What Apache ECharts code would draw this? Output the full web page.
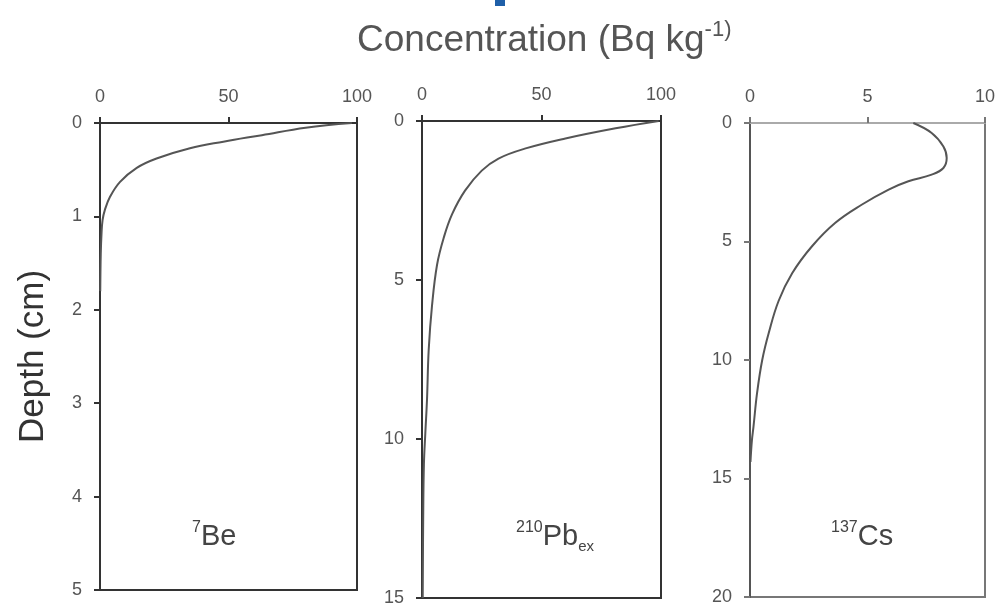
<!DOCTYPE html>
<html>
<head>
<meta charset="utf-8">
<style>
  html, body { margin: 0; padding: 0; background: #fff; }
  #chart { width: 1001px; height: 611px; }
</style>
<script src="https://cdn.jsdelivr.net/npm/echarts@6/dist/echarts.min.js"></script>
</head>
<body>
<div id="chart"></div>
<script>
// 7Be profile (depth cm, concentration Bq/kg)
const beDepth = [0, 0.05, 0.13, 0.2, 0.27, 0.38, 0.48, 0.63, 0.79, 0.93, 1.04, 1.18, 1.4, 1.8]
const beConc = [98, 80, 63, 48, 35, 22, 14.3, 7.8, 3.9, 1.9, 1.0, 0.6, 0.3, 0.1]

// 210Pbex profile
const pbDepth = [0, 0.23, 0.55, 0.87, 1.18, 1.56, 2.19, 2.93, 3.67, 4.52, 5.8, 7.2, 8.75, 9.8, 10.8, 12.5, 15]
const pbConc = [99, 81, 60, 43, 32, 25, 18, 12.6, 9.1, 6.3, 4.2, 2.8, 2.1, 1.4, 0.8, 0.5, 0.3]

// 137Cs profile
const csDepth = [0, 0.42, 0.99, 1.48, 1.9, 2.18, 2.46, 2.81, 3.45, 4.22, 5.21, 6.33, 7.5, 8.85, 10, 11.4, 12.8, 13.4, 14.3]
const csConc = [6.95, 7.73, 8.23, 8.37, 8.23, 7.73, 6.74, 5.9, 4.75, 3.62, 2.63, 1.8, 1.22, 0.8, 0.52, 0.3, 0.15, 0.08, 0.02]

// axis ranges [min, max, interval]
const concRanges = [[0, 100, 50], [0, 100, 50], [0, 10, 5]]
const depthRanges = [[0, 5, 1], [0, 15, 5], [0, 20, 5]]

const pairs = (xs, ys) => xs.map((x, i) => [x, ys[i]])

const font = 'Liberation Sans, Arial, sans-serif'
const labelColor = '#555'

const frames = [
  { left: 100, top: 123, width: 257, height: 467, line: '#333', topLine: '#333' },
  { left: 422, top: 121, width: 239, height: 477, line: '#333', topLine: '#333' },
  { left: 750, top: 123, width: 235, height: 474, line: '#777', topLine: '#aaa' },
]

// 面板标签（上标/下标用富文本）
const tag = (text, left, top) => ({
  text: text,
  left: left,
  top: top,
  textStyle: {
    fontWeight: 'normal',
    rich: {
      s: { fontFamily: font, fontSize: 16, color: '#444', fontWeight: 'normal', verticalAlign: 'top', lineHeight: 34 },
      m: { fontFamily: font, fontSize: 29, color: '#444', fontWeight: 'normal', lineHeight: 34 },
      b: { fontFamily: font, fontSize: 15, color: '#444', fontWeight: 'normal', verticalAlign: 'bottom', lineHeight: 34 },
    },
  },
})

const mycharts = echarts.init(document.getElementById('chart'))

mycharts.setOption({
  backgroundColor: '#fff',
  animation: false,
  title: [
    {
      text: 'Concentration (Bq kg{sup|-1)}',
      left: 352,
      top: 14,
      textStyle: {
        fontFamily: font,
        fontSize: 37,
        fontWeight: 'normal',
        color: '#555',
        lineHeight: 44,
        rich: {
          sup: { fontFamily: font, fontSize: 22, color: '#555', fontWeight: 'normal', verticalAlign: 'top', lineHeight: 44 },
        },
      },
    },
    tag('{s|7}{m|Be}', 187, 515),
    tag('{s|210}{m|Pb}{b|ex}', 511, 515),
    tag('{s|137}{m|Cs}', 826, 515),
  ],
  graphic: [
    { type: 'rect', shape: { x: 495, y: 0, width: 10, height: 6 }, style: { fill: '#1f5fa8' } },
  ],
  grid: frames.map((f) => ({
    left: f.left,
    top: f.top,
    width: f.width,
    height: f.height,
    show: true,
    borderColor: f.line,
    borderWidth: 2,
    backgroundColor: 'transparent',
  })),
  xAxis: frames.map((f, i) => ({
    type: 'value',
    gridIndex: i,
    position: 'top',
    min: concRanges[i][0],
    max: concRanges[i][1],
    interval: concRanges[i][2],
    axisLine: { show: true, lineStyle: { color: f.topLine, width: 2 } },
    axisTick: { show: true, length: 6, lineStyle: { color: f.line, width: 2 } },
    axisLabel: { color: labelColor, fontSize: 18, fontFamily: font, margin: 17 },
    splitLine: { show: false },
  })),
  yAxis: frames.map((f, i) => ({
    type: 'value',
    gridIndex: i,
    inverse: true,
    min: depthRanges[i][0],
    max: depthRanges[i][1],
    interval: depthRanges[i][2],
    name: i === 0 ? 'Depth (cm)' : '',
    nameLocation: 'middle',
    nameGap: 49,
    nameTextStyle: { fontFamily: font, fontSize: 35, color: '#333' },
    axisLine: { show: true, lineStyle: { color: i === 2 ? '#555' : f.line, width: 2 } },
    axisTick: { show: true, length: 6, lineStyle: { color: f.line, width: 2 } },
    axisLabel: { color: labelColor, fontSize: 18, fontFamily: font, margin: 18 },
    splitLine: { show: false },
  })),
  series: [
    pairs(beConc, beDepth),
    pairs(pbConc, pbDepth),
    pairs(csConc, csDepth),
  ].map((data, i) => ({
    type: 'line',
    xAxisIndex: i,
    yAxisIndex: i,
    data: data,
    smooth: 0.4,
    showSymbol: false,
    lineStyle: { color: '#555', width: 2 },
  })),
})

window.addEventListener('resize', () => mycharts.resize())
</script>
</body>
</html>
